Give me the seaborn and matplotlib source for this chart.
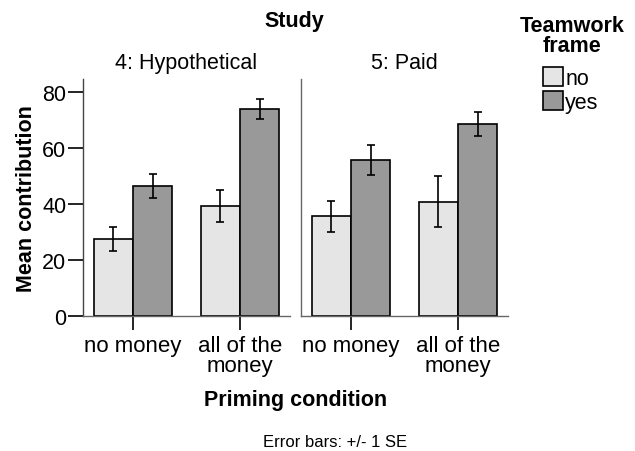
import pandas as pd
import matplotlib
matplotlib.use("Agg")
import matplotlib.pyplot as plt
import seaborn as sns

# ----------------------------- #
#  Data
# ----------------------------- #
studies = ["4: Hypothetical", "5: Paid"]
priming = ["no money", "all of the\nmoney"]
frames = ["no", "yes"]

# mean contribution, order: (no money, no), (no money, yes), (all, no), (all, yes)
hyp_means = [27.4, 46.2, 39.1, 73.9]
hyp_se = [4.4, 4.3, 5.7, 3.6]
paid_means = [35.5, 55.6, 40.6, 68.4]
paid_se = [5.6, 5.4, 9.1, 4.3]

rows = []
for study, means, ses in [(studies[0], hyp_means, hyp_se), (studies[1], paid_means, paid_se)]:
    k = 0
    for p in priming:
        for f in frames:
            rows.append({"Study": study, "Priming": p, "Frame": f,
                         "Mean": means[k], "SE": ses[k]})
            k += 1
df = pd.DataFrame(rows)

# ----------------------------- #
#  Plot
# ----------------------------- #
sns.set_style("white")
plt.rcParams["font.family"] = ["Liberation Sans", "DejaVu Sans"]
plt.rcParams["text.color"] = "black"
plt.rcParams["axes.labelcolor"] = "black"
plt.rcParams["xtick.color"] = "black"
plt.rcParams["ytick.color"] = "black"

fig = plt.figure(figsize=(6.35, 4.52), dpi=100)
ax_w, ax_h, ax_b = 0.326, 0.5237, 0.2993
axes = [fig.add_axes([0.1307, ax_b, ax_w, ax_h]),
        fig.add_axes([0.474, ax_b, ax_w, ax_h])]
palette = {"no": "#e5e5e5", "yes": "#999999"}

for ax, study in zip(axes, studies):
    sub = df[df["Study"] == study]
    sns.barplot(data=sub, x="Priming", y="Mean", hue="Frame", order=priming,
                hue_order=frames, palette=palette, errorbar=None, width=0.735,
                edgecolor="black", linewidth=1.2, saturation=1, ax=ax)
    # error bars at the centre of each bar (+/- 1 SE)
    ordered = sub.set_index(["Frame", "Priming"]).loc[
        [(f, p) for f in frames for p in priming]]
    for bar, (_, r) in zip(ax.patches, ordered.iterrows()):
        cx = bar.get_x() + bar.get_width() / 2
        ax.errorbar(cx, r["Mean"], yerr=r["SE"], color="black",
                    elinewidth=1.2, capsize=3.2, capthick=1.2)
    ax.set_xlim(-0.467, 1.467)
    ax.set_ylim(0, 84.5)
    ax.set_title(study, fontsize=15.5, pad=8, color="black")
    ax.set_xlabel("")
    ax.set_ylabel("")
    ax.get_legend().remove()
    for s in ["top", "right"]:
        ax.spines[s].set_visible(False)
    for s in ["left", "bottom"]:
        ax.spines[s].set_color("#666666")
        ax.spines[s].set_linewidth(1.0)
    ax.tick_params(axis="x", length=10, width=1.2, colors="black",
                   labelsize=16, pad=4, bottom=True)
    for t in ax.get_xticklabels():
        t.set_linespacing(0.95)
    ax.grid(False)

axes[0].spines["left"].set_color("#444444")
axes[0].set_yticks([0, 20, 40, 60, 80])
axes[0].tick_params(axis="y", length=11, width=1.2, colors="black",
                    labelsize=15.5, pad=1, left=True)
axes[0].set_ylabel("Mean contribution", fontsize=15.5, fontweight="bold", labelpad=4)
axes[1].set_yticks([])

fig.text(0.463, 0.953, "Study", ha="center", va="center",
         fontsize=15.5, fontweight="bold")
fig.text(0.466, 0.115, "Priming condition", ha="center", va="center",
         fontsize=15.5, fontweight="bold")
fig.text(0.527, 0.021, "Error bars: +/- 1 SE", ha="center", va="center",
         fontsize=12)

# legend title drawn separately, entries below it
fig.text(0.901, 0.92, "Teamwork\nframe", ha="center", va="center",
         fontsize=15.5, fontweight="bold", linespacing=0.95)
handles, labels = axes[0].get_legend_handles_labels()
leg = fig.legend(handles, labels, loc="upper left",
                 bbox_to_anchor=(0.851, 0.855), frameon=False, fontsize=15.5,
                 handlelength=0.95, handleheight=1.0, handletextpad=0.1,
                 labelspacing=0.1, borderpad=0.1, borderaxespad=0)
for t in leg.get_texts():
    t.set_color("black")

fig.savefig("out.png", dpi=100)
